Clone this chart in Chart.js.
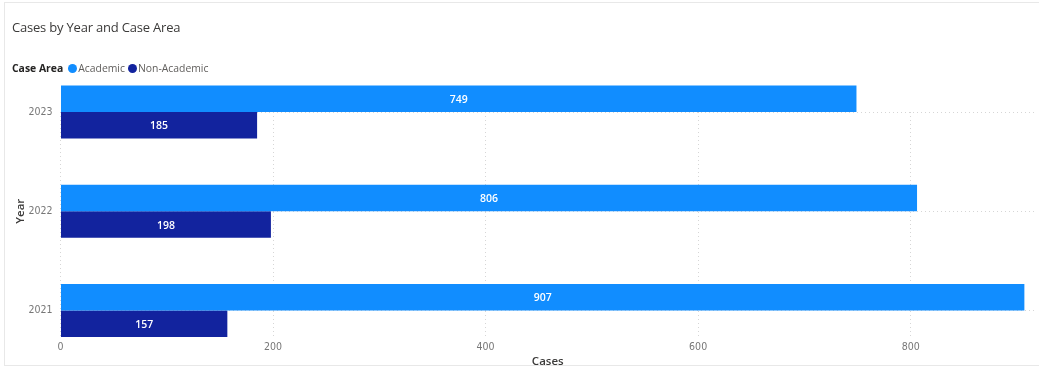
<!DOCTYPE html>
<html>
<head>
<meta charset="utf-8">
<title>Cases by Year and Case Area</title>
<script src="https://cdn.jsdelivr.net/npm/chart.js@4/dist/chart.umd.min.js"></script>
<style>
  html, body { margin: 0; padding: 0; background: #fff; }
  body { width: 1039px; height: 369px; position: relative; overflow: hidden;
         font-family: "Segoe UI", "Open Sans", "Noto Sans", sans-serif; }
  #frame { position: absolute; left: 4px; top: 2px; width: 1100px; height: 364px;
           border: 1px solid #e8e8e8; box-sizing: border-box; }
  #title { position: absolute; left: 12px; top: 18px; font-size: 13px; letter-spacing: -0.2px;
           color: #3b3a39; white-space: nowrap; }
  #legend { position: absolute; left: 12px; top: 61px; font-size: 10.4px; color: #605e5c;
            white-space: nowrap; display: flex; align-items: center; }
  #legend .head { font-weight: 700; color: #252423; margin-right: 5px; }
  #legend .item { display: flex; align-items: center; margin-right: 3px; }
  #legend .dot { width: 9px; height: 9px; border-radius: 50%; margin-right: 1px; }
  #wrap { position: absolute; left: 0; top: 0; width: 1039px; height: 369px; }
  #chart { display: block; }
</style>
</head>
<body>
<div id="frame"></div>
<div id="wrap"><canvas id="chart" width="1039" height="369"></canvas></div>
<div id="title">Cases by Year and Case Area</div>
<div id="legend"></div>
<script>
// Years, listed from the top row of the chart down
const years = ['2023', '2022', '2021'];
const academic = [749, 806, 907];
const nonAcademic = [185, 198, 157];
const xTicks = [0, 200, 400, 600, 800];

const seriesNames = ['Academic', 'Non-Academic'];
const seriesColors = ['#118DFF', '#12239E'];
const legendTitle = 'Case Area';

// White value labels centred inside each bar
const valueLabels = {
  id: 'valueLabels',
  afterDatasetsDraw(chart) {
    const ctx = chart.ctx;
    ctx.save();
    ctx.fillStyle = '#ffffff';
    ctx.font = '600 10.5px "Segoe UI", "Open Sans", "Noto Sans", sans-serif';
    ctx.textAlign = 'center';
    ctx.textBaseline = 'middle';
    chart.data.datasets.forEach((ds, di) => {
      const meta = chart.getDatasetMeta(di);
      meta.data.forEach((bar, i) => {
        const { x, y, base } = bar.getProps(['x', 'y', 'base'], true);
        ctx.fillText(String(ds.data[i]), (x + base) / 2, y + 1);
      });
    });
    ctx.restore();
  }
};

const dotted = [1, 3];
const gridColor = '#d6d6d6';
const tickFont = { family: '"Liberation Sans Narrow", "DejaVu Sans Condensed", "Roboto", sans-serif', size: 10.5 };
const titleFont = { family: '"Segoe UI", "Open Sans", "Noto Sans", sans-serif', size: 11.5, weight: '600' };

const chart = new Chart(document.getElementById('chart'), {
  type: 'bar',
  data: {
    labels: years,
    datasets: [
      { label: seriesNames[0], data: academic, backgroundColor: seriesColors[0] },
      { label: seriesNames[1], data: nonAcademic, backgroundColor: seriesColors[1] }
    ]
  },
  options: {
    indexAxis: 'y',
    responsive: false,
    animation: false,
    devicePixelRatio: 1,
    layout: { padding: { top: 112, right: 4, bottom: 0, left: 0 } },
    datasets: { bar: { categoryPercentage: 0.535, barPercentage: 1, clip: false } },
    plugins: {
      legend: { display: false },
      tooltip: { enabled: false }
    },
    scales: {
      x: {
        type: 'linear',
        min: 0,
        max: 917,
        afterBuildTicks(scale) {
          scale.ticks = xTicks.map(v => ({ value: v }));
        },
        afterFit(scale) { scale.height = 58.5; },
        border: { display: false, dash: dotted },
        grid: {
          color: gridColor,
          tickLength: 27,
          tickColor: gridColor,
          tickBorderDash: dotted
        },
        ticks: { padding: 3, color: '#777777', font: tickFont },
        title: {
          display: true,
          text: 'Cases',
          color: '#3b3a39',
          padding: { top: 1, bottom: 0 },
          font: titleFont
        }
      },
      y: {
        type: 'category',
        offset: false,
        afterFit(scale) { scale.width = 60.5; },
        border: { display: false, dash: dotted },
        grid: { color: gridColor, offset: false, drawTicks: false },
        ticks: { padding: 8, color: '#777777', font: tickFont },
        title: {
          display: true,
          text: 'Year',
          color: '#3b3a39',
          padding: { top: 14, bottom: 0 },
          font: titleFont
        }
      }
    }
  },
  plugins: [valueLabels]
});

// Legend row built from the chart's own datasets
const legend = document.getElementById('legend');
const head = document.createElement('span');
head.className = 'head';
head.textContent = legendTitle;
legend.appendChild(head);
chart.data.datasets.forEach(ds => {
  const item = document.createElement('span');
  item.className = 'item';
  const dot = document.createElement('span');
  dot.className = 'dot';
  dot.style.background = ds.backgroundColor;
  const txt = document.createElement('span');
  txt.textContent = ds.label;
  item.appendChild(dot);
  item.appendChild(txt);
  legend.appendChild(item);
});
</script>
</body>
</html>
